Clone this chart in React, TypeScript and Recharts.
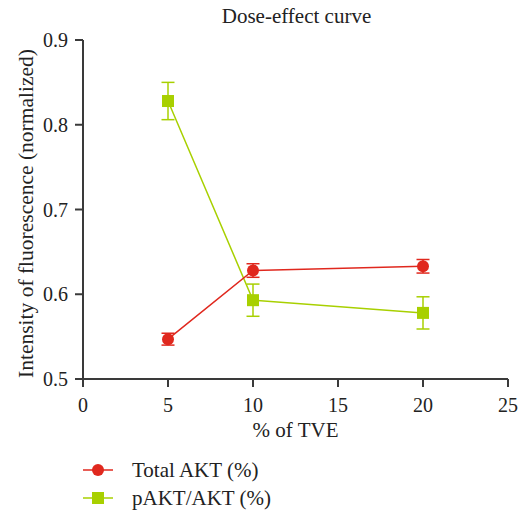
import React from 'react';
import { LineChart, Line, XAxis, YAxis, ErrorBar } from 'recharts';

// values
const doses = [5, 10, 20];
const totalAkt = [0.547, 0.628, 0.633];
const totalAktErr = [0.007, 0.008, 0.008];
const pAkt = [0.828, 0.593, 0.578];
const pAktErr = [0.022, 0.019, 0.019];
const xTicks = [0, 5, 10, 15, 20, 25];
const yTicks = [0.5, 0.6, 0.7, 0.8, 0.9];

const RED = '#e0281e';
const GREEN = '#a8d000';
const AXIS = '#3a3a3a';
const TEXT = '#222222';
const FONT = '"Liberation Serif", serif';

const data = doses.map((dose, i) => ({
  dose,
  total: totalAkt[i],
  totalErr: totalAktErr[i],
  pakt: pAkt[i],
  paktErr: pAktErr[i],
}));

const series = [
  { key: 'total', name: 'Total AKT (%)', color: RED, shape: 'circle' },
  { key: 'pakt', name: 'pAKT/AKT (%)', color: GREEN, shape: 'square' },
];

const Marker = ({ cx, cy, color, shape }: any) =>
  shape === 'circle' ? (
    <circle cx={cx} cy={cy} r={6} fill={color} />
  ) : (
    <rect x={cx - 6} y={cy - 6} width={12} height={12} fill={color} />
  );

const tickStyle = { fontSize: 20, fill: TEXT, fontFamily: FONT };
const labelStyle = { fontSize: 21, fill: TEXT, fontFamily: FONT };

export default function App() {
  return (
    <div
      style={{
        position: 'absolute',
        left: 0,
        top: 0,
        width: 522,
        height: 513,
        background: '#fff',
        fontFamily: FONT,
        color: TEXT,
      }}
    >
      <div
        style={{
          position: 'absolute',
          top: 6,
          left: 83,
          width: 427,
          textAlign: 'center',
          fontSize: 21,
          lineHeight: '21px',
        }}
      >
        Dose-effect curve
      </div>
      <LineChart
        width={522}
        height={513}
        data={data}
        margin={{ top: 40, right: 14, bottom: 72, left: 0 }}
      >
        <XAxis
          dataKey="dose"
          type="number"
          domain={[0, 25]}
          ticks={xTicks}
          height={62}
          stroke={AXIS}
          strokeWidth={2}
          tickSize={8}
          tickMargin={11}
          tick={tickStyle}
          label={{
            value: '% of TVE',
            position: 'insideBottom',
            offset: 4,
            style: labelStyle,
          }}
        />
        <YAxis
          type="number"
          domain={[0.5, 0.9]}
          ticks={yTicks}
          width={83}
          stroke={AXIS}
          strokeWidth={2}
          tickSize={8}
          tickMargin={7}
          tick={tickStyle}
          label={{
            value: 'Intensity of fluorescence (normalized)',
            angle: -90,
            position: 'center',
            dx: -16,
            dy: 4,
            style: { ...labelStyle, fontSize: 21.5, textAnchor: 'middle' },
          }}
        />
        {[...series].reverse().map((s) => (
          <Line
            key={s.key}
            dataKey={s.key}
            name={s.name}
            stroke={s.color}
            strokeWidth={1.5}
            isAnimationActive={false}
            dot={(p: any) => (
              <Marker key={`${s.key}-${p.index}`} cx={p.cx} cy={p.cy} color={s.color} shape={s.shape} />
            )}
            activeDot={false}
          >
            <ErrorBar
              dataKey={`${s.key}Err`}
              direction="y"
              width={6.5}
              stroke={s.color}
              strokeWidth={1.5}
              isAnimationActive={false}
            />
          </Line>
        ))}
      </LineChart>
      <div style={{ position: 'absolute', top: 456, left: 83, fontSize: 21 }}>
        {series.map((s) => (
          <div key={s.key} style={{ display: 'flex', alignItems: 'center', height: 28 }}>
            <svg width={30} height={14} style={{ marginRight: 19 }}>
              <line x1={0} y1={7} x2={30} y2={7} stroke={s.color} strokeWidth={1.5} />
              <Marker cx={15} cy={7} color={s.color} shape={s.shape} />
            </svg>
            <span>{s.name}</span>
          </div>
        ))}
      </div>
    </div>
  );
}
